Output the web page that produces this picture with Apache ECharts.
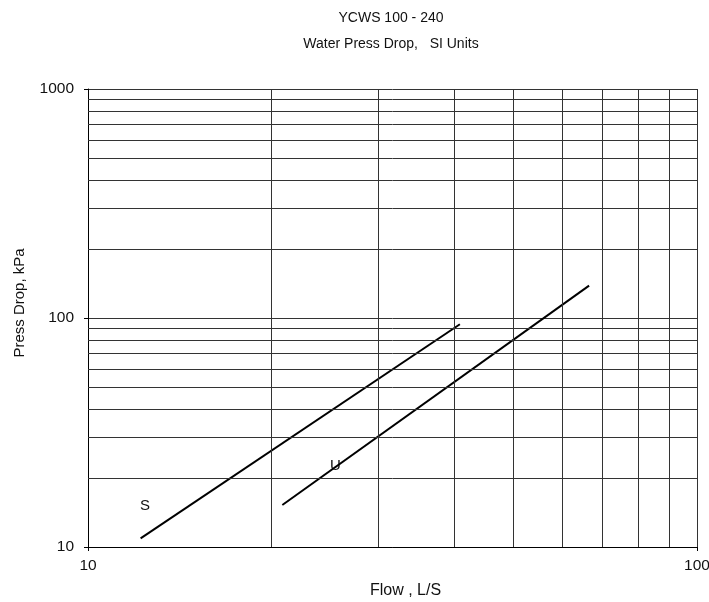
<!DOCTYPE html>
<html>
<head>
<meta charset="utf-8">
<script src="https://cdn.jsdelivr.net/npm/echarts@6/dist/echarts.min.js"></script>
<style>
  html, body { margin: 0; padding: 0; background: #fff; }
  #chart { width: 709px; height: 602px; }
</style>
</head>
<body>
<div id="chart"></div>
<script>
// line end points (flow L/S, press drop kPa)
var sFlow = [12.2, 40.8];
var sDrop = [10.9, 93.9];
var uFlow = [20.85, 66.5];
var uDrop = [15.25, 138.4];

// minor grid values
var xMinor = [20, 30, 40, 50, 60, 70, 80, 90];
var yMinor = [20, 30, 40, 50, 60, 70, 80, 90, 200, 300, 400, 500, 600, 700, 800, 900];

var font = 'Liberation Sans, Arial, sans-serif';
var gridColor = '#333';

function pairs(xs, ys) {
    var out = [];
    for (var i = 0; i < xs.length; i++) out.push([xs[i], ys[i]]);
    return out;
}

var minorLines = [];
xMinor.forEach(function (v) { minorLines.push({ xAxis: v }); });
yMinor.forEach(function (v) { minorLines.push({ yAxis: v }); });

var myChart = echarts.init(document.getElementById('chart'));
var option = {
    animation: false,
    backgroundColor: '#fff',
    title: {
        text: 'YCWS 100 - 240\nWater Press Drop,   SI Units',
        left: 386,
        top: 0,
        textAlign: 'center',
        textStyle: { fontFamily: font, fontSize: 14, fontWeight: 'normal', color: '#111', lineHeight: 26 }
    },
    grid: { left: 88, right: 12, top: 89, bottom: 55, outerBoundsMode: 'none', containLabel: false },
    xAxis: {
        type: 'log',
        logBase: 10,
        min: 10,
        max: 100,
        name: 'Flow , L/S',
        nameLocation: 'middle',
        nameGap: 36,
        nameTextStyle: { fontFamily: font, fontSize: 16, color: '#111', padding: [0, 0, 0, 26] },
        axisLine: { lineStyle: { color: '#000', width: 1 } },
        axisTick: { show: true, length: 4, lineStyle: { color: '#000' } },
        axisLabel: { fontFamily: font, fontSize: 15.5, color: '#111', margin: 11, formatter: function (v) { return String(v); } },
        splitLine: { show: true, lineStyle: { color: gridColor, width: 1 } },
        minorTick: { show: false }
    },
    yAxis: {
        type: 'log',
        logBase: 10,
        min: 10,
        max: 1000,
        name: 'Press Drop, kPa',
        nameLocation: 'middle',
        nameGap: 61,
        nameRotate: 90,
        nameTextStyle: { fontFamily: font, fontSize: 15, color: '#111', padding: [0, 0, 0, 30] },
        axisLine: { show: true, lineStyle: { color: '#000', width: 1 } },
        axisTick: { show: true, length: 4, lineStyle: { color: '#000' } },
        axisLabel: { fontFamily: font, fontSize: 15.5, color: '#111', margin: 14, formatter: function (v) { return String(v); } },
        splitLine: { show: true, lineStyle: { color: gridColor, width: 1 } }
    },
    series: [
        {
            name: 'S',
            type: 'line',
            data: pairs(sFlow, sDrop),
            symbol: 'none',
            lineStyle: { color: '#000', width: 2 },
            markLine: {
                silent: true,
                symbol: 'none',
                label: { show: false },
                lineStyle: { color: gridColor, width: 1, type: 'solid' },
                data: minorLines
            },
            z: 3
        },
        {
            name: 'U',
            type: 'line',
            data: pairs(uFlow, uDrop),
            symbol: 'none',
            lineStyle: { color: '#000', width: 2 },
            z: 3
        }
    ],
    graphic: [
        { type: 'text', left: 140, top: 498, style: { text: 'S', font: '15px ' + font, fill: '#111' } },
        { type: 'text', left: 330, top: 458, style: { text: 'U', font: '15px ' + font, fill: '#111' } }
    ]
};
myChart.setOption(option);
</script>
</body>
</html>
